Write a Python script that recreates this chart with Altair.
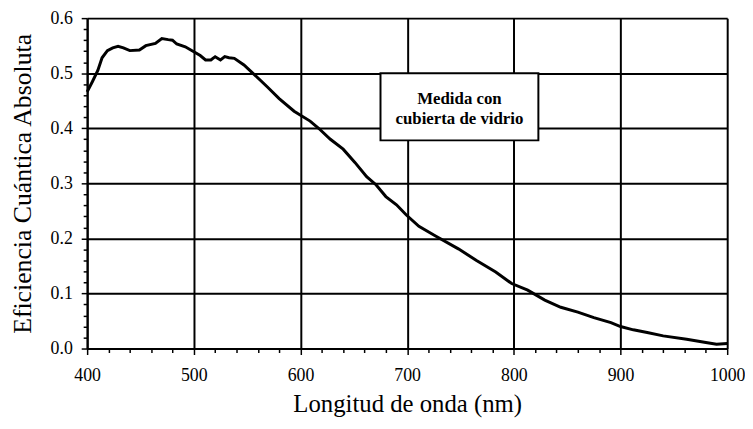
import altair as alt
import pandas as pd

# Wavelength (nm) and absolute quantum efficiency
wavelength = [400, 405, 410, 414, 419, 424, 429, 434, 440, 449, 455, 464, 470, 476,
              480, 484, 492, 500, 506, 511, 516, 520, 525, 529, 533, 538, 547, 557,
              569, 580, 594, 609, 617, 628, 640, 651, 662, 671, 680, 690, 699, 711,
              727, 748, 765, 783, 798, 813, 829, 844, 860, 875, 891, 900, 912, 925,
              940, 962, 980, 990, 1000]
efficiency = [0.466, 0.485, 0.505, 0.528, 0.541, 0.546, 0.549, 0.546, 0.541, 0.542,
              0.550, 0.554, 0.563, 0.561, 0.560, 0.553, 0.548, 0.539, 0.532, 0.524,
              0.524, 0.530, 0.524, 0.530, 0.528, 0.527, 0.515, 0.497, 0.475, 0.454,
              0.431, 0.413, 0.400, 0.380, 0.362, 0.338, 0.312, 0.297, 0.276, 0.261,
              0.243, 0.222, 0.204, 0.181, 0.160, 0.139, 0.118, 0.106, 0.088, 0.075,
              0.066, 0.056, 0.047, 0.040, 0.034, 0.029, 0.023, 0.017, 0.011, 0.008,
              0.009]

x_ticks = list(range(400, 1001, 20))
y_ticks = [round(i * 0.02, 2) for i in range(0, 31)]

box_x = [675]
box_x2 = [823]
box_y = [0.500]
box_y2 = [0.378]
box_text = ["Medida con\ncubierta de vidrio"]

FONT = "Liberation Serif"

df = pd.DataFrame({"wl": wavelength, "qe": efficiency})
box_df = pd.DataFrame({"x": box_x, "x2": box_x2, "y": box_y, "y2": box_y2,
                       "t": box_text,
                       "xc": [(a + b) / 2 for a, b in zip(box_x, box_x2)],
                       "yc": [(a + b) / 2 for a, b in zip(box_y, box_y2)]})

x_scale = alt.Scale(domain=[400, 1000], nice=False, zero=False)
y_scale = alt.Scale(domain=[0, 0.6], nice=False)

X_MAJOR = "datum.value % 100 === 0"
Y_MAJOR = "round(datum.value * 50) % 5 === 0"

x_axis = alt.Axis(
    title="Longitud de onda (nm)", values=x_ticks, tickCount=200,
    labelExpr=f"{X_MAJOR} ? datum.value : ''",
    labelOverlap=False,
    labelFont=FONT, labelFontSize=18, labelColor="black", labelPadding=12,
    labelFlush=False,
    titleFont=FONT, titleFontSize=25, titleFontWeight="normal", titleColor="black",
    titleBaseline="alphabetic", titleY=64,
    grid=True, gridColor="black", gridWidth=2,
    gridOpacity={"condition": {"test": X_MAJOR, "value": 1}, "value": 0},
    tickColor="black", tickWidth=1.5,
    tickSize={"condition": {"test": X_MAJOR, "value": 6}, "value": 4},
    domainColor="black", domainWidth=2,
)
y_axis = alt.Axis(
    title="Eficiencia Cuántica Absoluta", values=y_ticks, tickCount=200,
    labelExpr=f"{Y_MAJOR} ? format(datum.value, '.1f') : ''",
    labelOverlap=False,
    labelFont=FONT, labelFontSize=18, labelColor="black", labelPadding=9,
    titleFont=FONT, titleFontSize=26, titleFontWeight="normal", titleColor="black",
    titleX=-65, titleY=167, titleBaseline="middle",
    grid=True, gridColor="black", gridWidth=2,
    gridOpacity={"condition": {"test": Y_MAJOR, "value": 1}, "value": 0},
    tickColor="black", tickWidth=1.5,
    tickSize={"condition": {"test": Y_MAJOR, "value": 6}, "value": 4},
    domainColor="black", domainWidth=2,
)

line = alt.Chart(df).mark_line(color="black", strokeWidth=3).encode(
    x=alt.X("wl:Q", scale=x_scale, axis=x_axis),
    y=alt.Y("qe:Q", scale=y_scale, axis=y_axis),
)

box = alt.Chart(box_df).mark_rect(fill="white", stroke="black", strokeWidth=2).encode(
    x="x:Q", x2="x2:Q", y="y:Q", y2="y2:Q"
)
label = alt.Chart(box_df).mark_text(
    font=FONT, fontSize=17, fontWeight="bold", color="black",
    lineBreak="\n", lineHeight=20, align="center", baseline="middle", dy=-8
).encode(x="xc:Q", y="yc:Q", text="t:N")

chart = alt.layer(line, box, label).properties(
    width=647, height=334,
    autosize=alt.AutoSizeParams(type="none"),
    padding={"left": 80, "top": 8, "right": 18, "bottom": 71},
).configure_view(stroke="black", strokeWidth=2).configure(background="white")

chart.save("out.html", embed_options={"renderer": "svg", "actions": False})
